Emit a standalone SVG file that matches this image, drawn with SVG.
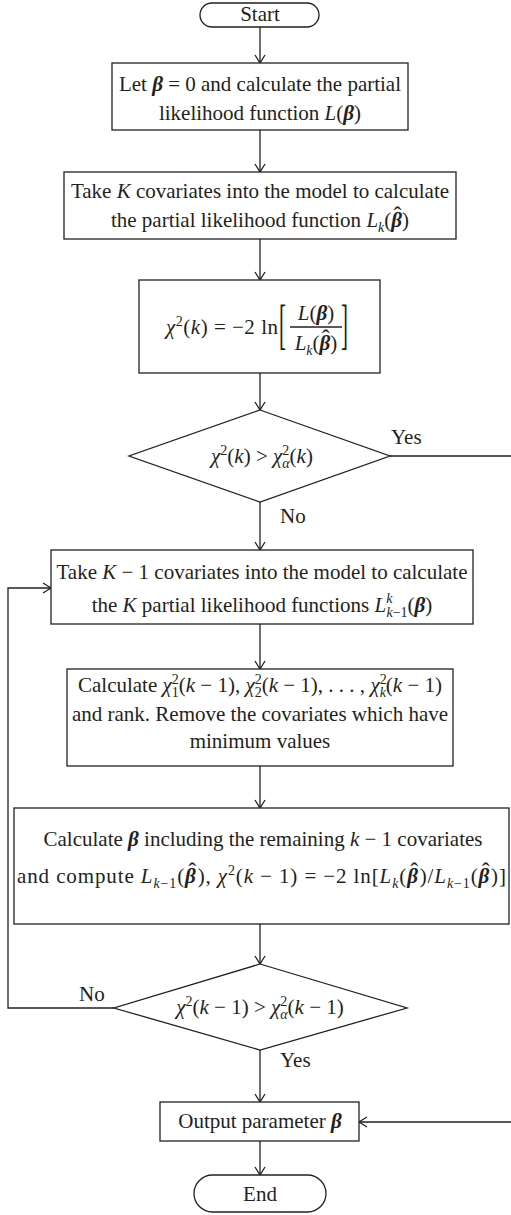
<svg xmlns="http://www.w3.org/2000/svg" width="511" height="1215" viewBox="0 0 511 1215">
<style>
.t{font-family:"Liberation Serif","Times New Roman",serif;font-size:21px;fill:#231f20}
.i{font-style:italic}
.b{font-style:italic;font-weight:bold}
.s{font-size:14px}
.h{font-size:24px;font-style:normal;font-weight:normal}
.box{fill:#fff;stroke:#231f20;stroke-width:1.3}
.ln{fill:none;stroke:#231f20;stroke-width:1.3}
</style>
<defs>
<marker id="ar" markerUnits="userSpaceOnUse" markerWidth="12" markerHeight="12" refX="9" refY="6" orient="auto">
<path d="M1,1 L9,6 L1,11" fill="none" stroke="#231f20" stroke-width="1.3"/>
</marker>
</defs>
<rect width="511" height="1215" fill="#fff"/>
<g id="connectors">
<line class="ln" x1="260" y1="27" x2="260" y2="63" marker-end="url(#ar)"/>
<line class="ln" x1="260" y1="130" x2="260" y2="172" marker-end="url(#ar)"/>
<line class="ln" x1="260" y1="239" x2="260" y2="280" marker-end="url(#ar)"/>
<line class="ln" x1="260" y1="373" x2="260" y2="410" marker-end="url(#ar)"/>
<line class="ln" x1="260" y1="502" x2="260" y2="550" marker-end="url(#ar)"/>
<line class="ln" x1="260" y1="624" x2="260" y2="669" marker-end="url(#ar)"/>
<line class="ln" x1="260" y1="766" x2="260" y2="808" marker-end="url(#ar)"/>
<line class="ln" x1="260" y1="924" x2="260" y2="964" marker-end="url(#ar)"/>
<line class="ln" x1="260" y1="1050" x2="260" y2="1102" marker-end="url(#ar)"/>
<line class="ln" x1="260" y1="1141" x2="260" y2="1175" marker-end="url(#ar)"/>
<path class="ln" d="M390,456 H514 V1122 H359" marker-end="url(#ar)"/>
<path class="ln" d="M114,1008 H8 V588 H51" marker-end="url(#ar)"/>
<text class="t" x="391" y="444">Yes</text>
<text class="t" x="280" y="523">No</text>
<text class="t" x="79" y="1001">No</text>
<text class="t" x="280" y="1067">Yes</text>
</g>
<g id="start">
<rect class="box" x="200" y="3" width="119" height="24" rx="12"/>
<text class="t" x="260" y="21" text-anchor="middle">Start</text>
</g>
<g id="init">
<rect class="box" x="112" y="63" width="296" height="67"/>
<text class="t" x="260" y="91" text-anchor="middle">Let <tspan class="b">β</tspan> = 0 and calculate the partial</text>
<text class="t" x="260" y="120" text-anchor="middle">likelihood function <tspan class="i">L</tspan>(<tspan class="b">β</tspan>)</text>
</g>
<g id="full-model">
<rect class="box" x="64" y="172" width="392" height="67"/>
<text class="t" x="260" y="198" text-anchor="middle">Take <tspan class="i">K</tspan> covariates into the model to calculate</text>
<text class="t" x="260" y="227" text-anchor="middle">the partial likelihood function <tspan class="i">L</tspan><tspan class="s i" dy="5">k</tspan><tspan dy="-5">(</tspan><tspan class="b">β</tspan><tspan class="h" dx="-8.5" dy="-4">ˆ</tspan><tspan dx="0.5" dy="4">)</tspan></text>
</g>
<g id="chi-k">
<rect class="box" x="139" y="280" width="241" height="93"/>
<text class="t" x="166" y="334" textLength="112" lengthAdjust="spacing"><tspan class="i">χ</tspan><tspan class="s" dy="-8">2</tspan><tspan dy="8">(</tspan><tspan class="i">k</tspan>) = −2 ln</text>
<text class="t" font-size="24" transform="translate(279,343) scale(1,2.6)">[</text>
<text class="t" x="316" y="320" text-anchor="middle"><tspan class="i">L</tspan>(<tspan class="b">β</tspan>)</text>
<line class="ln" x1="290" y1="327" x2="342" y2="327"/>
<text class="t" x="316" y="350" text-anchor="middle"><tspan class="i">L</tspan><tspan class="s i" dy="5">k</tspan><tspan dy="-5">(</tspan><tspan class="b">β</tspan><tspan class="h" dx="-8.5" dy="-4">ˆ</tspan><tspan dx="0.5" dy="4">)</tspan></text>
<text class="t" font-size="24" transform="translate(341,343) scale(1,2.6)">]</text>
</g>
<g id="decision-1">
<polygon class="box" points="260,410 390,456 260,502 129,456"/>
<text class="t" x="262" y="463" text-anchor="middle"><tspan class="i">χ</tspan><tspan class="s" dy="-8">2</tspan><tspan dy="8">(</tspan><tspan class="i">k</tspan>) &gt; <tspan class="i">χ</tspan><tspan class="s" dy="-8">2</tspan><tspan class="s i" dx="-7" dy="13">α</tspan><tspan dy="-5">(</tspan><tspan class="i">k</tspan>)</text>
</g>
<g id="reduced-models">
<rect class="box" x="51" y="550" width="422" height="74"/>
<text class="t" x="262" y="579" text-anchor="middle">Take <tspan class="i">K</tspan> − 1 covariates into the model to calculate</text>
<text class="t" x="262" y="612" text-anchor="middle">the <tspan class="i">K</tspan> partial likelihood functions <tspan class="i">L</tspan><tspan class="s i" dy="-9">k</tspan><tspan class="s" dx="-6" dy="14"><tspan class="i">k</tspan>−1</tspan><tspan dy="-5">(</tspan><tspan class="b">β</tspan>)</text>
</g>
<g id="rank">
<rect class="box" x="67" y="669" width="386" height="97"/>
<text class="t" x="260" y="692" text-anchor="middle">Calculate <tspan class="i">χ</tspan><tspan class="s" dy="-8">2</tspan><tspan class="s" dx="-7" dy="13">1</tspan><tspan dy="-5">(</tspan><tspan class="i">k</tspan> − 1), <tspan class="i">χ</tspan><tspan class="s" dy="-8">2</tspan><tspan class="s" dx="-7" dy="13">2</tspan><tspan dy="-5">(</tspan><tspan class="i">k</tspan> − 1), . . . , <tspan class="i">χ</tspan><tspan class="s" dy="-8">2</tspan><tspan class="s i" dx="-7" dy="13">k</tspan><tspan dy="-5">(</tspan><tspan class="i">k</tspan> − 1)</text>
<text class="t" x="260" y="721" text-anchor="middle">and rank. Remove the covariates which have</text>
<text class="t" x="260" y="748" text-anchor="middle">minimum values</text>
</g>
<g id="recompute">
<rect class="box" x="14" y="808" width="495" height="116"/>
<text class="t" x="263" y="846" text-anchor="middle">Calculate <tspan class="b">β</tspan> including the remaining <tspan class="i">k</tspan> − 1 covariates</text>
<text class="t" x="17" y="883" textLength="489" lengthAdjust="spacing">and compute <tspan class="i">L</tspan><tspan class="s" dy="5"><tspan class="i">k</tspan>−1</tspan><tspan dy="-5">(</tspan><tspan class="b">β</tspan><tspan class="h" dx="-8.5" dy="-4">ˆ</tspan><tspan dx="0.5" dy="4">),</tspan> <tspan class="i">χ</tspan><tspan class="s" dy="-8">2</tspan><tspan dy="8">(</tspan><tspan class="i">k</tspan> − 1) = −2 ln[<tspan class="i">L</tspan><tspan class="s i" dy="5">k</tspan><tspan dy="-5">(</tspan><tspan class="b">β</tspan><tspan class="h" dx="-8.5" dy="-4">ˆ</tspan><tspan dx="0.5" dy="4">)/</tspan><tspan class="i">L</tspan><tspan class="s" dy="5"><tspan class="i">k</tspan>−1</tspan><tspan dy="-5">(</tspan><tspan class="b">β</tspan><tspan class="h" dx="-8.5" dy="-4">ˆ</tspan><tspan dx="0.5" dy="4">)]</tspan></text>
</g>
<g id="decision-2">
<polygon class="box" points="260,964 407,1008 260,1050 114,1008"/>
<text class="t" x="260" y="1014" text-anchor="middle"><tspan class="i">χ</tspan><tspan class="s" dy="-8">2</tspan><tspan dy="8">(</tspan><tspan class="i">k</tspan> − 1) &gt; <tspan class="i">χ</tspan><tspan class="s" dy="-8">2</tspan><tspan class="s i" dx="-7" dy="13">α</tspan><tspan dy="-5">(</tspan><tspan class="i">k</tspan> − 1)</text>
</g>
<g id="output">
<rect class="box" x="160" y="1102" width="199" height="39"/>
<text class="t" x="260" y="1128" text-anchor="middle">Output parameter <tspan class="b">β</tspan></text>
</g>
<g id="end">
<rect class="box" x="194" y="1175" width="132" height="37" rx="18.5"/>
<text class="t" x="260" y="1201" text-anchor="middle">End</text>
</g>
</svg>
